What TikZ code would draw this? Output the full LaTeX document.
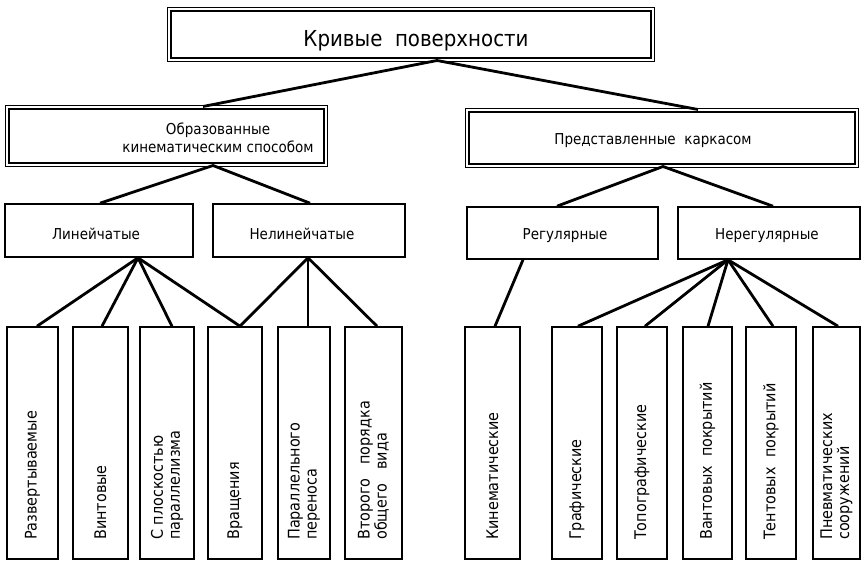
\documentclass[tikz,border=0pt]{standalone}
\usepackage{fontspec}
\setmainfont{DejaVu Sans}[FakeStretch=0.9]
\begin{document}
\begin{tikzpicture}[x=1pt,y=-1pt,
  dbl/.style={draw, line width=1.4pt, double, double distance=2pt, inner sep=0pt},
  sbox/.style={draw, line width=1.6pt, inner sep=0pt},
  vbox/.style={sbox, minimum height=232},
  link/.style={line width=2.8pt},
  lbl/.style={inner sep=0pt, font=\fontsize{15}{18}\selectfont, align=center},
  toplbl/.style={inner sep=0pt, font=\fontsize{22}{26}\selectfont},
  vtext/.style={rotate=90, anchor=west, inner sep=0pt, align=left,
    font=\fontsize{16}{17}\selectfont}]
\useasboundingbox (0,0) rectangle (862,561);

% root
\node[dbl, minimum width=483.6, minimum height=50.6] (top) at (411,34.5) {};
\node[toplbl, anchor=base] (toptxt) at (416,47) {Кривые\ \ поверхности};

% second level
\node[dbl, minimum width=318.6, minimum height=57.6] (L) at (166.5,136) {};
\node[lbl] (Ltxt) at (218,138) {Образованные\\кинематическим способом};
\node[dbl, minimum width=389.6, minimum height=55.6] (R) at (662,138) {};
\node[lbl, anchor=base] (Rtxt) at (653,145) {Представленные\ \ каркасом};

% third level
\node[sbox, minimum width=188, minimum height=53] (lin) at (99,230.5) {};
\node[lbl, anchor=base] (lintxt) at (96,240) {Линейчатые};
\node[sbox, minimum width=192, minimum height=53] (nelin) at (309,230.5) {};
\node[lbl, anchor=base] (nelintxt) at (302,240) {Нелинейчатые};
\node[sbox, minimum width=191, minimum height=52] (reg) at (562.5,233) {};
\node[lbl, anchor=base] (regtxt) at (565,240) {Регулярные};
\node[sbox, minimum width=182, minimum height=52] (nereg) at (769,233) {};
\node[lbl, anchor=base] (neregtxt) at (767,240) {Нерегулярные};

% leaves
\node[vbox, minimum width=51] (b1) at (32.5,443) {};
\node[vbox, minimum width=55] (b2) at (100.5,443) {};
\node[vbox, minimum width=54] (b3) at (167,443) {};
\node[vbox, minimum width=54] (b4) at (235,443) {};
\node[vbox, minimum width=52] (b5) at (304,443) {};
\node[vbox, minimum width=57] (b6) at (373.5,443) {};
\node[vbox, minimum width=55] (b7) at (492.5,443) {};
\node[vbox, minimum width=50] (b8) at (577,443) {};
\node[vbox, minimum width=50] (b9) at (642,443) {};
\node[vbox, minimum width=49] (b10) at (707.5,443) {};
\node[vbox, minimum width=50] (b11) at (771,443) {};
\node[vbox, minimum width=47] (b12) at (836.5,443) {};

\node[vtext] (t1) at (32.5,540) {Развертываемые};
\node[vtext] (t2) at (100.5,540) {Винтовые};
\node[vtext] (t3) at (167,540) {С плоскостью\\параллелизма};
\node[vtext] (t4) at (235,540) {Вращения};
\node[vtext] (t5) at (304,540) {Параллельного\\переноса};
\node[vtext] (t6) at (373.5,540) {Второго\ \ \ порядка\\общего\ \ \ вида};
\node[vtext] (t7) at (492.5,540) {Кинематические};
\node[vtext] (t8) at (577,540) {Графические};
\node[vtext] (t9) at (642,540) {Топографические};
\node[vtext] (t10) at (707.5,540) {Вантовых\ \ покрытий};
\node[vtext] (t11) at (771,540) {Тентовых\ \ покрытий};
\node[vtext] (t12) at (836.5,540) {Пневматических\\сооружений};

% connectors
\draw[link] ([xshift=36.5]L.north) -- ([xshift=26]top.south) -- ([xshift=36]R.north);
\draw[link] ([xshift=1]lin.north) -- ([xshift=46.5]L.south) -- ([xshift=1]nelin.north);
\draw[link] ([xshift=-5.5]reg.north) -- ([xshift=1]R.south) -- ([xshift=4]nereg.north);

\foreach \b/\s in {b1/4.5, b2/1.5, b3/5, b4/5}
  \draw[link] ([xshift=39]lin.south) -- ([xshift=\s]\b.north);
\foreach \b/\s in {b4/5, b5/4, b6/3.5}
  \draw[link] ([xshift=-1]nelin.south) -- ([xshift=\s]\b.north);
\draw[link] ([xshift=-39.5]reg.south) -- ([xshift=2.5]b7.north);
\foreach \b/\s in {b8/1, b9/3, b10/0.5, b11/2, b12/1.5}
  \draw[link] ([xshift=-41]nereg.south) -- ([xshift=\s]\b.north);
\end{tikzpicture}
\end{document}
